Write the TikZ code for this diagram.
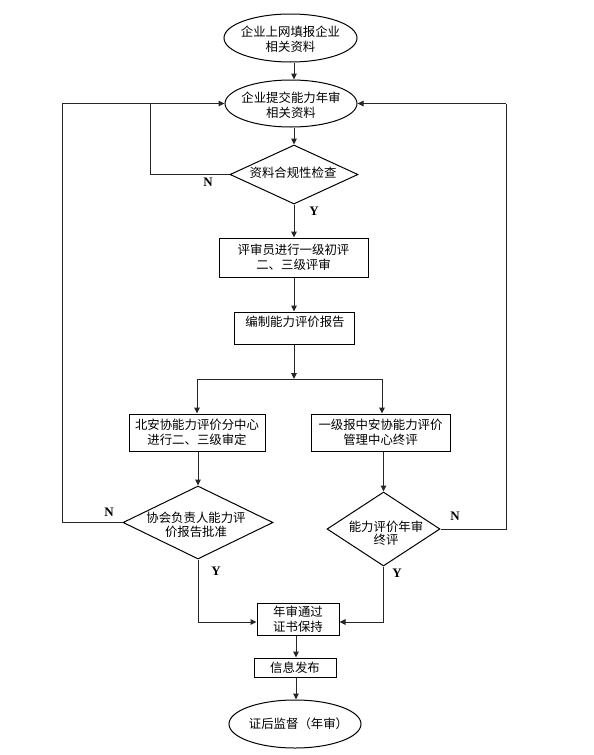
\documentclass[tikz,border=0pt]{standalone}
\usepackage{fontspec}
\setmainfont{Noto Sans CJK SC}
\newfontfamily\ynfont{Liberation Serif}
\usetikzlibrary{shapes.geometric,arrows.meta}
\tikzset{
  x=1pt,y=-1pt,
  every node/.style={font=\fontsize{12.4}{15}\selectfont, inner sep=0pt, align=center},
  ell/.style={draw, ellipse, line width=1pt},
  box/.style={draw, rectangle, line width=1pt},
  dia/.style={draw, diamond, line width=1pt},
  txt/.style={},
  yn/.style={font=\ynfont\bfseries\fontsize{13}{13}\selectfont},
  ln/.style={line width=1pt, draw=black!85},
  arr/.style={ln, -{Triangle[length=6pt,width=5.5pt]}},
}
\begin{document}
\begin{tikzpicture}
\useasboundingbox (0,0) rectangle (594,755);
% shapes
\node[ell, minimum width=133, minimum height=48] (e1) at (290.5,38) {};
\node[txt] (t1) at (290.5,39.5) {企业上网填报企业\\相关资料};
\node[ell, minimum width=132, minimum height=47] (e2) at (291,103.5) {};
\node[txt] (t2) at (291,105.5) {企业提交能力年审\\相关资料};
\node[dia, minimum width=128, minimum height=59] (d1) at (294,174.5) {};
\node[txt] (t3) at (293,173) {资料合规性检查};
\node[box, minimum width=149, minimum height=39] (b1) at (293.5,257.5) {评审员进行一级初评\\二、三级评审};
\node[box, minimum width=120, minimum height=32] (b2) at (294,328) {};
\node[txt] (t4) at (295,322) {编制能力评价报告};
\node[box, minimum width=136, minimum height=37] (b3) at (197,432.5) {北安协能力评价分中心\\进行二、三级审定};
\node[box, minimum width=139, minimum height=37] (b4) at (380.5,432.5) {一级报中安协能力评价\\管理中心终评};
\node[dia, minimum width=150, minimum height=73] (d2) at (198,522.5) {};
\node[txt, font=\fontsize{12.4}{14}\selectfont] (t5) at (196,525) {协会负责人能力评\\价报告批准};
\node[dia, minimum width=113, minimum height=74] (d3) at (383.5,529) {};
\node[txt, font=\fontsize{12.4}{13.5}\selectfont] (t6) at (386,533) {能力评价年审\\终评};
\node[box, minimum width=82, minimum height=32] (b5) at (298,619) {年审通过\\证书保持};
\node[box, minimum width=82, minimum height=19] (b6) at (295,667.5) {信息发布};
\node[ell, minimum width=132, minimum height=48] (e3) at (295,724) {};
\node[txt] (t7) at (298.5,724) {证后监督（年审）};
% labels
\node[yn] (n1) at (208,182) {N};
\node[yn] (y1) at (314,211) {Y};
\node[yn] (n2) at (109,512) {N};
\node[yn] (y2) at (216,571) {Y};
\node[yn] (n3) at (455,516) {N};
\node[yn] (y3) at (397,573) {Y};
% helper coordinates
\coordinate (c1) at (150,174.5);
\coordinate (c2) at (150,103.5);
\coordinate (c3) at (62,522.5);
\coordinate (c4) at (62,103.5);
\coordinate (c5) at (506,529);
\coordinate (c6) at (506,103.5);
\coordinate (sp) at (294,379);
\coordinate (spL) at (197,379);
\coordinate (spR) at (382,379);
\coordinate (j1) at (198,622);
\coordinate (j2) at (383.5,622);
\coordinate (col) at (296,0);
% connectors
\draw[arr] (e1.south -| d1.north) -- (e2.north -| d1.north);
\draw[arr] (e2.south -| d1.north) -- (d1.north);
\draw[arr] (d1.south) -- (b1.north -| d1.south);
\draw[ln] (d1.west) -- (c1) -- (c2);
\draw[arr] (c4) -- (e2.west);
\draw[ln] (d2.west) -- (c3) -- (c4);
\draw[ln] (d3.east) -- (c5) -- (c6);
\draw[arr] (c6) -- (e2.east);
\draw[arr] (b1.south -| d1.south) -- (b2.north -| d1.south);
\draw[arr] (b2.south -| d1.south) -- (sp);
\draw[ln] (spL) -- (spR);
\draw[arr] (spL) -- (b3.north -| spL);
\draw[arr] (spR) -- (b4.north -| spR);
\draw[arr] (b3.south -| d2.north) -- (d2.north);
\draw[arr] (b4.south -| d3.north) -- (d3.north);
\draw[ln] (d2.south) -- (j1);
\draw[arr] (j1) -- (b5.west |- j1);
\draw[ln] (d3.south) -- (j2);
\draw[arr] (j2) -- (b5.east |- j2);
\draw[arr] (b5.south -| col) -- (b6.north -| col);
\draw[arr] (b6.south -| col) -- (e3.north -| col);
\end{tikzpicture}
\end{document}
